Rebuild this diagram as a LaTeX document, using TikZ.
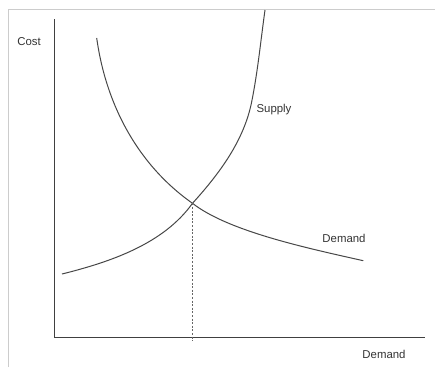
\documentclass[tikz,border=0pt]{standalone}
\usepackage{fontspec}
\setmainfont{Liberation Sans}
\begin{document}
\begin{tikzpicture}[x=1pt,y=-1pt,
  lbl/.style={text=black!80,font=\fontsize{11.4}{13}\selectfont,inner sep=0pt},
  axis/.style={draw=black!75,line width=1.3pt},
  curve/.style={draw=black!72,line width=1pt},
  guide/.style={draw=black!60,line width=0.8pt,dash pattern=on 2pt off 1.6pt},
  frame/.style={draw=black!20,line width=1pt}]
\useasboundingbox (0,0) rectangle (435,367);
\draw[frame] (8,367) -- (8,9) -- (435,9);
% axes
\coordinate (ytop) at (54.5,19);
\coordinate (origin) at (54.5,337.5);
\coordinate (xend) at (425,337.5);
\draw[axis] (ytop) -- (origin) -- (xend);
% equilibrium
\coordinate (eq) at (192.5,203.3);
\coordinate (eqbase) at (192.5,341);
% supply curve
\coordinate (s0) at (62,274);
\coordinate (s2) at (251.7,101.7);
\coordinate (s3) at (265,10);
\draw[curve] (s0) .. controls (110.5,261.9) and (163.4,244) .. (eq)
  .. controls (219.3,173.7) and (243.9,140.9) .. (s2)
  .. controls (257.8,71.3) and (260.7,40.7) .. (s3);
% demand curve
\coordinate (d0) at (96.7,38);
\coordinate (d2) at (363.3,260.7);
\draw[curve] (d0) .. controls (106,105) and (138,165) .. (eq)
  .. controls (228,231) and (304.7,247.6) .. (d2);
\draw[guide] (eq) -- (eqbase);
% labels
\node[lbl] (cost) at (29,41.5) {Cost};
\node[lbl] (supply) at (274,110) {Supply};
\node[lbl] (dcurve) at (344,238) {Demand};
\node[lbl] (dxaxis) at (384,354) {Demand};
\end{tikzpicture}
\end{document}
